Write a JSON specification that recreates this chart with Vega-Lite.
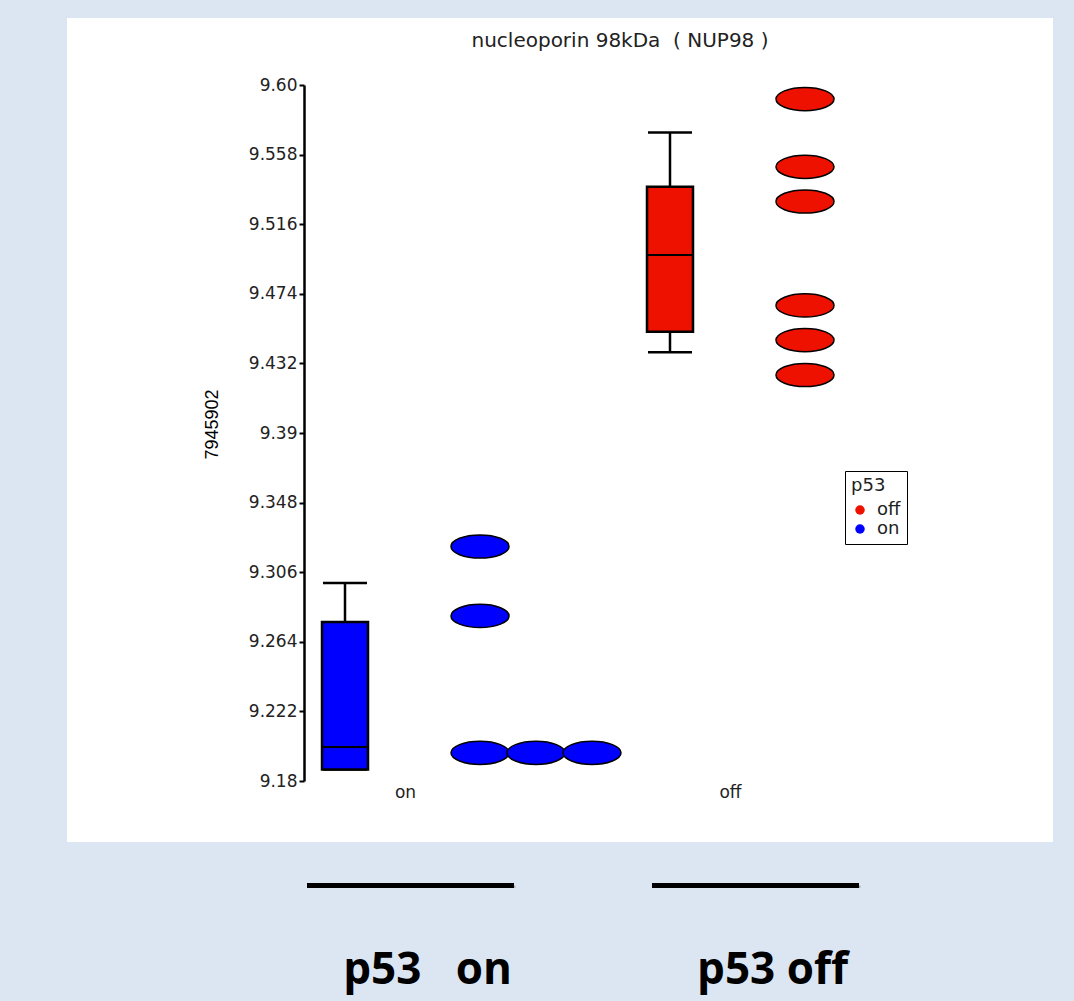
{
  "$schema": "https://vega.github.io/schema/vega-lite/v6.json",
  "background": "#dce6f2",
  "padding": {"left": 67, "top": 18, "right": 21, "bottom": 0},
  "spacing": 0,
  "resolve": {"scale": {"x": "independent", "y": "independent"}},
  "config": {"view": {"stroke": null}},
  "datasets": {
    "boxes": [
      {"group": "on", "lower": 9.187, "q1": 9.187, "median": 9.2005, "q3": 9.276, "upper": 9.2995},
      {"group": "off", "lower": 9.4387, "q1": 9.4511, "median": 9.4974, "q3": 9.5386, "upper": 9.5714}
    ],
    "points": [
      {"group": "on", "value": 9.3215},
      {"group": "on", "value": 9.2796},
      {"group": "on", "value": 9.197},
      {"group": "on", "value": 9.197},
      {"group": "on", "value": 9.197},
      {"group": "off", "value": 9.5915},
      {"group": "off", "value": 9.5506},
      {"group": "off", "value": 9.5297},
      {"group": "off", "value": 9.467},
      {"group": "off", "value": 9.4461},
      {"group": "off", "value": 9.425}
    ],
    "labels": [
      {"group": "on", "label": "p53\u00a0\u00a0\u00a0on"},
      {"group": "off", "label": "p53 off"}
    ]
  },
  "vconcat": [
    {
      "width": 986,
      "height": 824,
      "view": {"fill": "white", "stroke": null},
      "title": {
        "text": "nucleoporin 98kDa\u00a0 ( NUP98 )",
        "font": "DejaVu Sans",
        "fontSize": 20,
        "fontWeight": "normal",
        "color": "#222222",
        "anchor": "middle",
        "frame": "group",
        "dx": 60,
        "offset": -33
      },
      "encoding": {
        "x": {
          "field": "group",
          "type": "nominal",
          "scale": {"type": "point", "domain": ["on", "off"], "range": [338, 663], "padding": 0},
          "axis": {
            "orient": "bottom",
            "offset": -61,
            "domain": false,
            "ticks": false,
            "labelPadding": 3,
            "labelFont": "DejaVu Sans",
            "labelFontSize": 17,
            "labelColor": "#222222",
            "labelAngle": 0,
            "title": null
          }
        }
      },
      "layer": [
        {
          "data": {"name": "boxes"},
          "mark": {"type": "rule", "xOffset": -60, "strokeWidth": 2.5, "color": "black"},
          "encoding": {
            "y": {
              "field": "lower",
              "type": "quantitative",
              "title": "7945902",
              "scale": {"domain": [9.18, 9.6], "range": [763, 67], "nice": false, "zero": false},
              "axis": {
                "offset": -237,
                "values": [9.18, 9.222, 9.264, 9.306, 9.348, 9.39, 9.432, 9.474, 9.516, 9.558, 9.6],
                "labelExpr": "datum.value > 9.59 ? '9.60' : format(datum.value, '.3~f')",
                "grid": false,
                "domainColor": "black",
                "domainWidth": 2.5,
                "tickColor": "black",
                "tickWidth": 2,
                "tickSize": 5,
                "labelFont": "DejaVu Sans",
                "labelFontSize": 17,
                "labelColor": "#222222",
                "labelPadding": 2,
                "titleFont": "Liberation Sans",
                "titleFontSize": 18,
                "titleFontWeight": "normal",
                "titleColor": "black",
                "titleX": -92,
                "titleY": 406,
                "titleAngle": -90,
                "titleAlign": "center",
                "titleBaseline": "middle"
              }
            },
            "y2": {"field": "upper"}
          }
        },
        {
          "data": {"name": "boxes"},
          "mark": {"type": "tick", "xOffset": -60, "size": 44, "thickness": 2.5, "color": "black", "opacity": 1},
          "encoding": {"y": {"field": "upper", "type": "quantitative", "title": "7945902"}}
        },
        {
          "data": {"name": "boxes"},
          "mark": {"type": "tick", "xOffset": -60, "size": 44, "thickness": 2.5, "color": "black", "opacity": 1},
          "encoding": {"y": {"field": "lower", "type": "quantitative", "title": "7945902"}}
        },
        {
          "data": {"name": "boxes"},
          "mark": {"type": "bar", "width": 46, "xOffset": -60, "stroke": "black", "strokeWidth": 2.5, "opacity": 1},
          "encoding": {
            "y": {"field": "q1", "type": "quantitative", "title": "7945902"},
            "y2": {"field": "q3"},
            "fill": {
              "field": "group",
              "type": "nominal",
              "scale": {"domain": ["off", "on"], "range": ["#ee1100", "#0000ff"]},
              "legend": {
                "orient": "none",
                "legendX": 778,
                "legendY": 453,
                "title": "p53",
                "titleFont": "DejaVu Sans",
                "titleFontSize": 18,
                "titleFontWeight": "normal",
                "titleColor": "#222222",
                "titlePadding": 6,
                "labelFont": "DejaVu Sans",
                "labelFontSize": 18,
                "labelColor": "#222222",
                "labelOffset": 8,
                "symbolType": "circle",
                "symbolSize": 90,
                "symbolStrokeWidth": 0,
                "strokeColor": "black",
                "padding": 6,
                "rowPadding": 1
              }
            }
          }
        },
        {
          "data": {"name": "boxes"},
          "mark": {"type": "tick", "xOffset": -60, "size": 44, "thickness": 2, "color": "black", "opacity": 1},
          "encoding": {"y": {"field": "median", "type": "quantitative", "title": "7945902"}}
        },
        {
          "data": {"name": "points"},
          "transform": [
            {"window": [{"op": "row_number", "as": "k"}], "groupby": ["group", "value"]},
            {"filter": "datum.k == 1"}
          ],
          "mark": {"type": "point", "shape": "M-1,0A1,0.4,0,1,1,1,0A1,0.4,0,1,1,-1,0Z", "size": 3364, "filled": true, "stroke": "black", "strokeWidth": 1.5, "opacity": 1, "xOffset": 75},
          "encoding": {
            "y": {"field": "value", "type": "quantitative", "title": "7945902"},
            "fill": {"field": "group", "type": "nominal"}
          }
        },
        {
          "data": {"name": "points"},
          "transform": [
            {"window": [{"op": "row_number", "as": "k"}], "groupby": ["group", "value"]},
            {"filter": "datum.k == 2"}
          ],
          "mark": {"type": "point", "shape": "M-1,0A1,0.4,0,1,1,1,0A1,0.4,0,1,1,-1,0Z", "size": 3364, "filled": true, "stroke": "black", "strokeWidth": 1.5, "opacity": 1, "xOffset": 131},
          "encoding": {
            "y": {"field": "value", "type": "quantitative", "title": "7945902"},
            "fill": {"field": "group", "type": "nominal"}
          }
        },
        {
          "data": {"name": "points"},
          "transform": [
            {"window": [{"op": "row_number", "as": "k"}], "groupby": ["group", "value"]},
            {"filter": "datum.k == 3"}
          ],
          "mark": {"type": "point", "shape": "M-1,0A1,0.4,0,1,1,1,0A1,0.4,0,1,1,-1,0Z", "size": 3364, "filled": true, "stroke": "black", "strokeWidth": 1.5, "opacity": 1, "xOffset": 187},
          "encoding": {
            "y": {"field": "value", "type": "quantitative", "title": "7945902"},
            "fill": {"field": "group", "type": "nominal"}
          }
        }
      ]
    },
    {
      "width": 986,
      "height": 159,
      "view": {"stroke": null},
      "data": {"name": "labels"},
      "encoding": {
        "x": {
          "field": "group",
          "type": "nominal",
          "scale": {"type": "band", "domain": ["on", "off"], "range": [240, 792], "paddingInner": 0.4, "paddingOuter": 0},
          "axis": null
        }
      },
      "layer": [
        {
          "mark": {"type": "bar", "color": "#7f7f7f", "opacity": 0.5, "xOffset": 1.5, "yOffset": 2.5},
          "encoding": {
            "y": {"datum": 0.742, "type": "quantitative", "scale": {"domain": [0, 1], "nice": false, "zero": false}, "axis": null},
            "y2": {"datum": 0.711}
          }
        },
        {
          "mark": {"type": "bar", "color": "black", "opacity": 1},
          "encoding": {
            "y": {"datum": 0.742, "type": "quantitative"},
            "y2": {"datum": 0.711}
          }
        },
        {
          "mark": {"type": "text", "font": "Open Sans", "fontWeight": "bold", "fontSize": 44, "dx": 17, "color": "black", "baseline": "middle", "align": "center"},
          "encoding": {
            "y": {"datum": 0.19, "type": "quantitative"},
            "text": {"field": "label"}
          }
        }
      ]
    }
  ]
}
